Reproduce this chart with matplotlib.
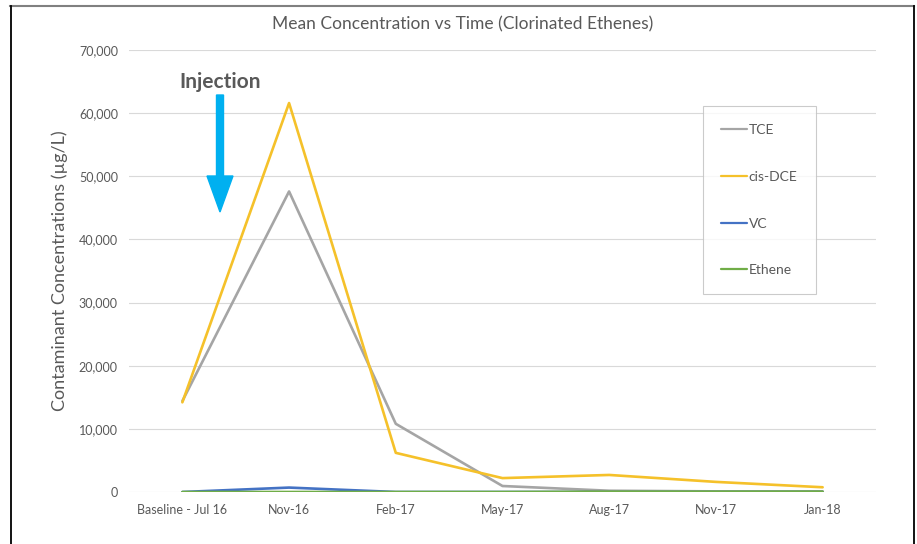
import numpy as np
import matplotlib
matplotlib.use("Agg")
from matplotlib import pyplot as plt
from matplotlib.patches import FancyArrow
from matplotlib.lines import Line2D
from matplotlib.transforms import IdentityTransform
from matplotlib.ticker import FuncFormatter

dates = ["Baseline - Jul 16", "Nov-16", "Feb-17", "May-17", "Aug-17", "Nov-17", "Jan-18"]
tce = [14400, 47600, 10800, 950, 200, 100, 100]
cis_dce = [14200, 61600, 6200, 2200, 2700, 1600, 750]
vc = [0, 700, 0, 0, 0, 0, 0]
ethene = [0, 0, 0, 0, 50, 50, 50]

series = [("TCE", tce, "#A5A5A5"),
          ("cis-DCE", cis_dce, "#F5C12A"),
          ("VC", vc, "#4472C4"),
          ("Ethene", ethene, "#70AD47")]

plt.rcParams['font.family'] = ['Lato', 'DejaVu Sans']
txt = "#595959"

fig = plt.figure(figsize=(9.17, 5.44), dpi=100)
ax = fig.add_axes([129/917, 1-492/544, (876-129)/917, (492-50)/544])

x = np.arange(len(dates))
for name, vals, col in series:
    ax.plot(x, vals, color=col, lw=1.9, label=name, solid_capstyle='round')

ax.set_xlim(-0.5, len(dates)-0.5)
ax.set_ylim(0, 70000)
ax.set_yticks(np.arange(0, 70001, 10000))
ax.yaxis.set_major_formatter(FuncFormatter(lambda v, p: f"{int(v):,}"))
ax.set_xticks(x)
ax.set_xticklabels(dates)
ax.tick_params(length=0, colors=txt, labelsize=9, pad=9)
ax.tick_params(axis='y', pad=8)
ax.grid(axis='y', color='#D9D9D9', lw=0.8)
ax.set_axisbelow(True)
for s in ax.spines.values():
    s.set_visible(False)
ax.set_ylabel("Contaminant Concentrations (µg/L)", color=txt, fontsize=13, labelpad=8)

fig.text(463/917, 1-24/544, "Mean Concentration vs Time (Clorinated Ethenes)",
         ha='center', va='center', color=txt, fontsize=12.5)

leg = ax.legend(loc='upper left', bbox_to_anchor=((703-129)/747, 1-(106-50)/442),
                frameon=True, fancybox=False, edgecolor='#BFBFBF', fontsize=10,
                labelspacing=2.5, handlelength=1.9, handletextpad=0.1,
                borderpad=1.3, borderaxespad=0)
leg.get_frame().set_linewidth(0.8)
for t in leg.get_texts():
    t.set_color(txt)
for h in leg.get_lines():
    h.set_linewidth(1.6)

# injection marker
fig.text(220/917, 1-82/544, "Injection", ha='center', va='center',
         color=txt, fontsize=15, fontweight='bold')
arr = FancyArrow(220, 544-95, 0, -(212-95), width=7, head_width=26, head_length=36,
                 length_includes_head=True, color="#00B0F0", transform=IdentityTransform())
fig.patches.append(arr)

# frame around picture
fig.lines.append(Line2D([10/917, 914/917], [1-6/544, 1-6/544], transform=fig.transFigure,
                        color='#808080', lw=1.5))
fig.lines.append(Line2D([11/917, 11/917], [0, 1-6/544], transform=fig.transFigure,
                        color='black', lw=1.3))
fig.lines.append(Line2D([914/917, 914/917], [0, 1-6/544], transform=fig.transFigure,
                        color='black', lw=1.3))

fig.savefig("out.png", dpi=100)
